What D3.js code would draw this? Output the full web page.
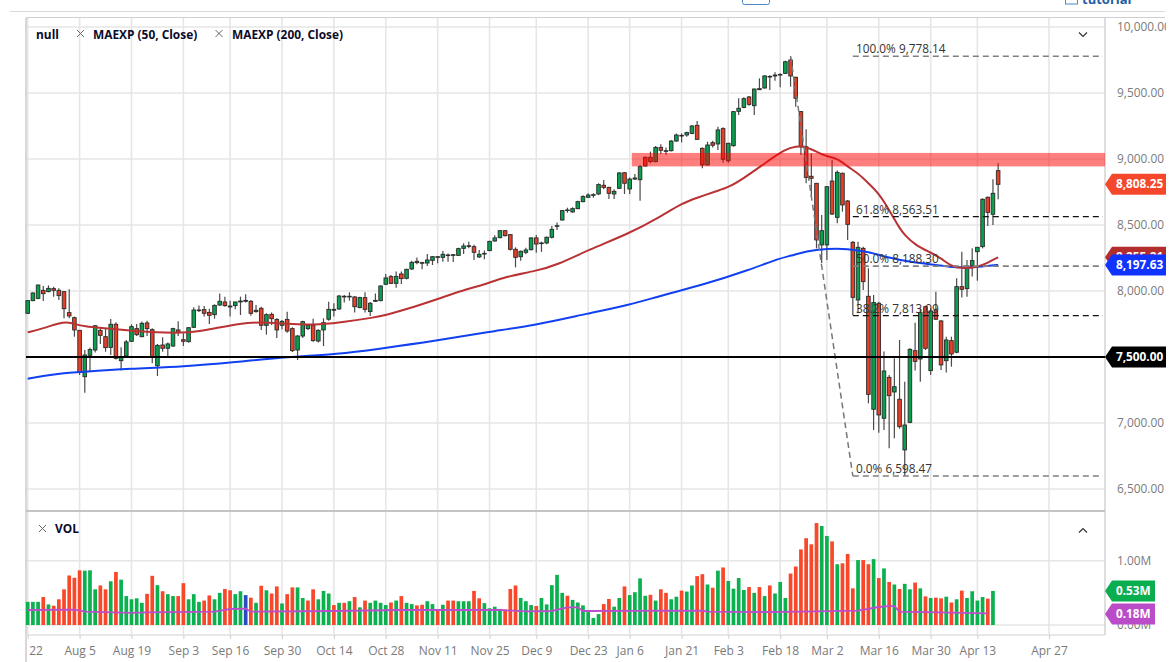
<!DOCTYPE html>
<html><head><meta charset="utf-8">
<style>html,body{margin:0;padding:0;background:#fff;overflow:hidden}svg{display:block;font-family:"Open Sans",sans-serif}</style>
<script src="https://cdn.jsdelivr.net/npm/d3@7"></script></head><body><svg id="c" width="1170" height="662"></svg>
<script>
const open=[7831,7927,7944,8005,7995,8018,8005,7995,7836,7798,7702,7351,7513,7553,7702,7654,7573,7748,7472,7508,7619,7715,7654,7758,7707,7434,7591,7566,7583,7705,7631,7616,7725,7851,7859,7838,7821,7894,7917,7879,7889,7917,7922,7922,7844,7869,7740,7823,7785,7740,7785,7715,7553,7659,7715,7740,7621,7705,
7786,7854,7864,7955,7955,7955,7874,7950,7844,7922,7927,8051,8109,8058,8129,8096,8167,8225,8210,8212,8232,8255,8255,8268,8270,8270,8323,8338,8336,8258,8280,8306,8379,8404,8457,8427,8316,8260,8293,8313,8402,8359,8364,8407,8490,8538,8609,8599,8624,8677,8710,8725,8735,8801,8785,8735,8778,8896,8773,8848,8843,9013,9013,8980,
9088,9058,9063,9136,9174,9182,9194,9255,9081,8955,9124,9114,9230,8987,9101,9361,9391,9470,9404,9525,9538,9621,9629,9636,9649,9750,9619,9359,9093,8869,
8816,8349,8349,8833,8558,8892,8682,8369,7932,8323,7960,7104,7907,7036,7346,7235,7180,6796,7005,7548,7485,7881,7397,7856,7773,7472,7624,7536,8033,8018,8192,8298,8336,8710,8581,8912];
const high=[7932,7990,8050,8038,8043,8033,8020,8000,8013,7806,7702,7553,7571,7740,7717,7712,7788,7763,7573,7629,7748,7750,7768,7775,7717,7599,7649,7609,7722,7770,7679,7727,7876,7891,7886,7866,7899,7982,7957,7927,7919,7957,7975,7932,7894,7881,7831,7838,7793,7780,7843,7725,7667,7775,7750,7790,7710,7793,
7919,7907,7970,7970,7990,7960,7957,7990,7917,7982,8043,8129,8121,8147,8147,8169,8230,8253,8222,8280,8265,8265,8303,8285,8280,8328,8361,8374,8351,8311,8306,8381,8422,8462,8462,8432,8331,8306,8328,8407,8424,8374,8412,8492,8518,8614,8631,8634,8684,8725,8740,8740,8816,8841,8790,8770,8901,8901,8859,8886,8955,9018,9056,9098,
9111,9088,9144,9194,9194,9207,9258,9288,9088,9131,9139,9245,9240,9124,9364,9460,9467,9477,9535,9611,9634,9634,9657,9649,9745,9778,9624,9364,9225,9043,
8816,8576,8796,8992,8912,8897,8689,8379,8374,8336,8172,7970,7919,7541,7364,7490,7629,7313,7566,7760,7869,7889,7869,7995,7780,7654,7654,8096,8298,8235,8323,8331,8702,8715,8846,8967];
const low=[7826,7922,7937,7924,7990,7957,7932,7793,7793,7654,7364,7230,7389,7535,7599,7540,7515,7482,7397,7498,7614,7659,7649,7659,7452,7356,7540,7508,7578,7659,7583,7609,7720,7841,7806,7750,7790,7886,7881,7806,7861,7818,7912,7813,7836,7705,7669,7742,7644,7710,7684,7538,7477,7644,7705,7616,7609,7583,
7775,7806,7856,7912,7927,7838,7869,7838,7811,7919,7922,8046,8053,8025,8053,8088,8159,8202,8164,8190,8197,8210,8222,8222,8220,8265,8280,8323,8235,8250,8240,8301,8374,8399,8412,8306,8179,8230,8278,8306,8290,8296,8354,8397,8462,8533,8593,8593,8619,8672,8705,8707,8727,8770,8697,8697,8773,8735,8735,8841,8684,8942,8967,8975,
9038,9030,9056,9131,9126,9169,9187,9144,8929,8950,9088,9068,8972,8972,9093,9333,9384,9404,9333,9523,9533,9523,9593,9543,9644,9548,9396,9030,8816,8715,
8323,8210,8235,8576,8513,8601,8387,7818,7831,8008,7149,6947,6927,6947,6808,6884,6957,6598,6998,7397,7313,7553,7364,7780,7402,7382,7427,7528,7950,7957,8109,8078,8323,8493,8500,8695];
const close=[7927,7985,8045,7980,8020,8005,7965,7866,7811,7705,7386,7515,7556,7737,7664,7571,7748,7490,7498,7614,7730,7669,7755,7715,7498,7588,7566,7599,7715,7687,7619,7722,7856,7856,7831,7816,7891,7922,7889,7886,7917,7924,7929,7831,7854,7740,7821,7790,7705,7770,7697,7548,7659,7768,7740,7624,7702,7760,
7861,7861,7962,7960,7960,7881,7950,7861,7907,7929,8038,8099,8058,8111,8094,8164,8217,8215,8215,8235,8260,8260,8278,8273,8275,8321,8341,8343,8293,8278,8285,8376,8402,8457,8419,8316,8255,8301,8311,8402,8356,8364,8407,8467,8495,8609,8614,8624,8677,8715,8727,8730,8806,8785,8740,8755,8894,8816,8848,8856,8942,8947,8980,9088,
9066,9063,9136,9182,9179,9200,9250,9149,8955,9106,9104,9220,8998,9119,9359,9384,9457,9414,9530,9533,9629,9626,9636,9641,9737,9629,9460,9093,8861,8854,
8387,8457,8790,8583,8899,8652,8505,7952,8331,8071,7217,7912,7061,7394,7207,7275,6972,6985,7558,7467,7836,7566,7849,7786,7440,7629,7523,8033,8013,8190,8230,8331,8695,8596,8740,8808.25];

const volume=[.36,.36,.36,.435,.32,.30,.40,.555,.77,.735,.85,.845,.85,.555,.615,.555,.68,.825,.705,.45,.40,.415,.345,.485,.765,.62,.525,.48,.45,.45,.65,.40,.48,.36,.38,.46,.40,.50,.56,.54,.48,.525,.465,.425,.345,.61,.54,.49,.60,.335,.48,.585,.585,.42,.38,.555,.40,.53,.49,.31,.345,.345,.37,.435,.275,.38,.345,.38,.345,.31,.35,.38,
.45,.345,.325,.305,.315,.37,.325,.245,.315,.38,.38,.37,.37,.37,.53,.415,.34,.26,.285,.25,.24,.56,.615,.42,.37,.31,.295,.42,.32,.62,.78,.50,.455,.39,.35,.305,.20,.11,.17,.325,.405,.285,.42,.60,.465,.51,.725,.455,.47,.38,.555,.50,.40,.44,.535,.52,.615,.76,.79,.63,.58,.845,.895,.685,.565,.73,.545,.59,.50,.59,.45,.615,.49,.67,.42,.80,.91,1.175,
1.35,1.255,1.585,1.54,1.385,1.30,.945,.96,1.105,.57,1.01,1.01,.945,1.025,.73,.88,.67,.63,.56,.64,.555,.66,.57,.445,.42,.425,.415,.44,.35,.40,.535,.42,.525,.38,.435,.41,.53];
const volumeDownBars=[3,5,6,7,8,9,10,14,15,17,23,24,26,29,30,34,35,38,39,43,45,47,48,50,51,54,55,59,61,63,65,70,72,75,76,79,81,82,86,87,92,93,94,98,104,111,112,115,120,122,123,126,129,130,132,134,139,141,143,147,148,149,150,151,152,155,157,158,159,161,162,164,166,168,171,173,175,176,178,180,185];
const volumeFlatBar=42;
const volMaIdx=[0,9,11,20,23,36,39,42,43,59,72,85,91,96,101,104,106,107,130,131,143,149,160,164,166,167,168,185];
const volMa=[.233,.238,.207,.19,.197,.207,.249,.254,.207,.218,.233,.233,.233,.212,.218,.275,.275,.218,.223,.207,.202,.207,.223,.28,.295,.295,.207,.18];

const emaFastIdx=[0,3,6,8,9,11,14,19,25,30,32,36,41,45,50,55,60,67,69,73,79,85,88,92,98,102,108,116,122,126,129,133,135,138,142,146,148,150,152,154,156,158,160,162,164,166,168,169,171,174,176,178,180,183,185,187];
const emaFast=[7687,7717,7758,7763,7750,7732,7720,7702,7684,7684,7689,7715,7755,7765,7750,7742,7760,7800,7818,7861,7939,8020,8048,8109,8152,8197,8311,8437,8565,8664,8707,8760,8785,8854,8967,9076,9098,9093,9056,9018,9005,8942,8892,8816,8740,8614,8475,8424,8349,8291,8248,8185,8172,8179,8215,8255.21];
const emaSlowIdx=[0,3,6,10,20,30,40,50,60,67,79,89,98,108,116,122,130,139,145,147,150,154,158,162,166,170,175,178,182,185,187];
const emaSlow=[7336,7356,7374,7386,7412,7427,7462,7500,7523,7558,7624,7692,7742,7831,7894,7965,8045,8159,8250,8265,8303,8321,8321,8298,8250,8221,8197,8179,8177,8190,8197.63];

const priceTicks=[10000,9500,9000,8500,8000,7500,7000,6500];
const volTicks=[0,1];
const timeTickIdx=[0,10,20,30,39,49,59,69,79,89,98,108,116,126,135,145,154,164,174,183,196.8];
const timeTicks=["22","Aug 5","Aug 19","Sep 3","Sep 16","Sep 30","Oct 14","Oct 28","Nov 11","Nov 25","Dec 9","Dec 23","Jan 6","Jan 21","Feb 3","Feb 18","Mar 2","Mar 16","Mar 30","Apr 13","Apr 27"];
const fibLevels=[9778.14,8563.51,8188.30,7813.09,6598.47];
const fibNames=["100.0%","61.8%","50.0%","38.2%","0.0%"];
const fibDark=[false,true,false,true,false];
const zone=[9046,8944];
const zoneStart=116.4;
const fibStart=159;
const swingFrom=147;

const svg=d3.select("#c");
const L=26,R=1105,T=18,PB=511,VB=635;
const x=d3.scaleLinear().domain([0,196.8]).range([27.7,1049]);
const y=d3.scaleLinear().domain([10000,6500]).range([27,489]);
const yv=d3.scaleLinear().domain([0,1]).range([625,560.7]);
const fmt=d3.format(",.2f");
const grid="#e6e6e6";
const C={g:"#0a9e4f",r:"#e63f26",vg:"#0cb14f",vr:"#f9472a",vb:"#2a4bc4",fast:"#b93234",slow:"#1140f2",ma:"#bc4ccc"};

// page chrome
svg.append("line").attr("x1",10).attr("x2",1165).attr("y1",11.5).attr("y2",11.5).attr("stroke","#d9d9d9");
svg.append("line").attr("x1",L).attr("x2",1165).attr("y1",17.5).attr("y2",17.5).attr("stroke","#cfcfcf");
svg.append("rect").attr("x",742.5).attr("y",-6).attr("width",27).attr("height",10.5).attr("rx",2).attr("fill","#fff").attr("stroke","#4a86c8");
svg.append("rect").attr("x",1065.5).attr("y",-6).attr("width",12).attr("height",10).attr("fill","#fff").attr("stroke","#4a86c8");
svg.append("text").attr("x",1082).attr("y",4).attr("font-size",13).attr("font-weight",700).attr("fill","#1f5fa8").text("tutorial");

// grid
const gGrid=svg.append("g");
gGrid.selectAll(".v").data(timeTickIdx).join("line").attr("x1",d=>x(d)).attr("x2",d=>x(d)).attr("y1",T).attr("y2",VB).attr("stroke",grid).attr("stroke-width",1.6);
gGrid.selectAll(".h").data(priceTicks).join("line").attr("x1",L).attr("x2",R).attr("y1",d=>y(d)).attr("y2",d=>y(d)).attr("stroke",grid).attr("stroke-width",1.6);
gGrid.selectAll(".w").data(volTicks).join("line").attr("x1",L).attr("x2",R).attr("y1",d=>yv(d)).attr("y2",d=>yv(d)).attr("stroke",grid).attr("stroke-width",1.6);
gGrid.append("line").attr("x1",L).attr("x2",L).attr("y1",T).attr("y2",662).attr("stroke","#c8c8c8").attr("stroke-width",1.4);
gGrid.append("line").attr("x1",R).attr("x2",R).attr("y1",T).attr("y2",VB).attr("stroke","#d0d0d0").attr("stroke-width",1.4);
gGrid.append("line").attr("x1",L).attr("x2",R).attr("y1",PB).attr("y2",PB).attr("stroke","#c4c4c4").attr("stroke-width",2);
gGrid.append("line").attr("x1",L).attr("x2",R).attr("y1",VB).attr("y2",VB).attr("stroke","#e0e0e0").attr("stroke-width",1.6);

// volume
const volDown=new Set(volumeDownBars);
svg.append("g").selectAll("rect").data(volume).join("rect")
 .attr("x",(d,i)=>x(i)-1.85).attr("width",3.7).attr("y",d=>yv(d)).attr("height",d=>yv(0)-yv(d))
 .attr("fill",(d,i)=>i===volumeFlatBar?C.vb:volDown.has(i)?C.vr:C.vg);
svg.append("path").attr("fill","none").attr("stroke",C.ma).attr("stroke-width",1.8)
 .attr("d",d3.line().x((d,i)=>x(volMaIdx[i])).y(d=>yv(d))(volMa));

// candles
const bars=open.map((o,i)=>({i,o,h:high[i],l:low[i],c:close[i]}));
const gC=svg.append("g");
gC.selectAll("line").data(bars).join("line").attr("x1",d=>x(d.i)).attr("x2",d=>x(d.i)).attr("y1",d=>y(d.h)).attr("y2",d=>y(d.l)).attr("stroke","#4a4a4a").attr("stroke-width",1.2);
gC.selectAll("rect").data(bars).join("rect")
 .attr("x",d=>x(d.i)-1.8).attr("width",3.6)
 .attr("y",d=>y(Math.max(d.o,d.c))).attr("height",d=>Math.max(.6,Math.abs(y(d.o)-y(d.c))))
 .attr("fill",d=>d.c>=d.o?C.g:C.r).attr("stroke","#2a2a2a").attr("stroke-width",.9);

// moving averages
const ln=(xs,ys,col)=>svg.append("path").attr("fill","none").attr("stroke",col).attr("stroke-width",2).attr("stroke-linejoin","round")
 .attr("d",d3.line().curve(d3.curveBasis).x((d,i)=>x(xs[i])).y(d=>y(d))(ys));
ln(emaSlowIdx,emaSlow,C.slow);
ln(emaFastIdx,emaFast,C.fast);

// resistance zone
svg.append("rect").attr("x",x(zoneStart)).attr("width",R-x(zoneStart)).attr("y",y(zone[0])).attr("height",y(zone[1])-y(zone[0])).attr("fill","#ff0000").attr("opacity",.5);

// fib retracement
const gF=svg.append("g");
gF.append("line").attr("x1",x(swingFrom)).attr("y1",y(fibLevels[0])).attr("x2",x(fibStart)).attr("y2",y(fibLevels[4])).attr("stroke","#777").attr("stroke-width",1.5).attr("stroke-dasharray","6 4");
fibLevels.forEach((v,i)=>{
 gF.append("line").attr("x1",x(fibStart)).attr("x2",1103).attr("y1",y(v)).attr("y2",y(v)).attr("stroke",fibDark[i]?"#111":"#808080").attr("stroke-width",fibDark[i]?1.2:1.6).attr("stroke-dasharray","6 4");
 gF.append("text").attr("x",856).attr("y",y(v)-3).attr("font-size",11.8).attr("fill","#333").text(fibNames[i]+" "+fmt(v));
});

// 7500 line
svg.append("line").attr("x1",L).attr("x2",R).attr("y1",y(7500)).attr("y2",y(7500)).attr("stroke","#000").attr("stroke-width",2);

// axes
const ax=(sel)=>{sel.select(".domain").remove();sel.selectAll("line").remove();sel.selectAll("text").attr("fill","#7a7a7a").attr("font-size",11.9).attr("font-family",'"Open Sans",sans-serif');};
svg.append("g").attr("transform",`translate(1117,0)`).call(d3.axisRight(y).tickValues(priceTicks).tickFormat(d=>fmt(d)).tickSize(0).tickPadding(0)).call(ax);
svg.append("g").attr("transform",`translate(1117,0)`).call(d3.axisRight(yv).tickValues(volTicks).tickFormat(d=>fmt(d)+"M").tickSize(0).tickPadding(0)).call(ax);
const xa=svg.append("g").attr("transform",`translate(0,${VB})`).call(d3.axisBottom(x).tickValues(timeTickIdx).tickFormat((d,i)=>timeTicks[i]).tickSize(4).tickPadding(5));
xa.select(".domain").remove();
xa.selectAll("line").attr("stroke","#cfcfcf");
xa.selectAll("text").attr("fill","#7a7a7a").attr("font-size",12).attr("font-family",'"Open Sans",sans-serif').attr("dy","0.9em");
xa.selectAll("text").filter((d,i)=>i===0).attr("text-anchor","start").attr("dx",1);

// value tags
const tag=(cy,w,col,txt)=>{
 const g=svg.append("g");
 g.append("path").attr("d",`M1105,${cy}L1112,${cy-10.5}H${1105+w}V${cy+10.5}H1112Z`).attr("fill",col);
 g.append("text").attr("x",1116).attr("y",cy).attr("dy","0.35em").attr("fill","#fff").attr("font-size",11.8).attr("font-weight",700).text(txt);
};
const lastOf=a=>a[a.length-1];
tag(y(lastOf(close)),65,"#f4472c",fmt(lastOf(close)));
tag(y(lastOf(emaFast)),65,"#b32d2d",fmt(lastOf(emaFast)));
tag(y(lastOf(emaSlow)),65,"#1133ff",fmt(lastOf(emaSlow)));
tag(y(7500),65,"#000",fmt(7500));
tag(yv(lastOf(volume)),50,"#0bae4f",d3.format(".2f")(lastOf(volume))+"M");
tag(yv(lastOf(volMa))+0.5,50,"#bb4cc8",d3.format(".2f")(lastOf(volMa))+"M");
svg.append("rect").attr("x",1166).attr("y",0).attr("width",4).attr("height",662).attr("fill","#fff");

// legends
const lab=(tx,ty,t)=>svg.append("text").attr("x",tx).attr("y",ty).attr("font-size",11.9).attr("font-weight",700).attr("fill","#0b0b28").text(t);
const cross=(cx,cy)=>svg.append("path").attr("d",`M${cx-3.5},${cy-3.5}L${cx+3.5},${cy+3.5}M${cx+3.5},${cy-3.5}L${cx+3.5-7},${cy+3.5}`).attr("stroke","#666").attr("stroke-width",1);
lab(36,38.5,"null");cross(80.5,33.5);lab(93,38.5,"MAEXP (50, Close)");cross(219,33.5);lab(232,38.5,"MAEXP (200, Close)");
cross(42.5,528.5);lab(55,533,"VOL");
svg.append("path").attr("d","M1079,32.5L1083,36.5L1087,32.5").attr("fill","none").attr("stroke","#333").attr("stroke-width",1.2);
svg.append("path").attr("d","M1079,532.5L1083,528.5L1087,532.5").attr("fill","none").attr("stroke","#333").attr("stroke-width",1.2);
</script></body></html>
